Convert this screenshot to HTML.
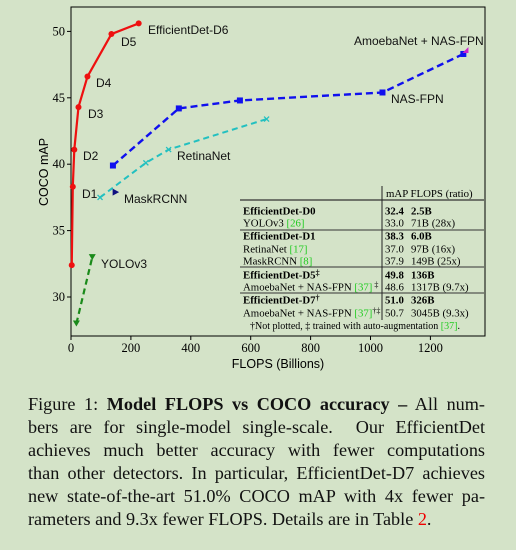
<!DOCTYPE html>
<html><head><meta charset="utf-8"><style>
body{margin:0;background:#d4e3c8;width:516px;height:550px;overflow:hidden;position:relative}
svg{position:absolute;left:0;top:0}
.cap{position:absolute;left:28px;top:393px;width:457px;font-family:"Liberation Serif",serif;font-size:18.2px;line-height:22.9px;color:#111}
.cap div{text-align:justify;text-align-last:justify;white-space:nowrap}
.cap div.last{text-align-last:left}
</style></head><body>
<svg width="516" height="380">
<g id="axes"></g><g id="marks"></g><g id="tbl"></g>
</svg>
<div class="cap">
<div style="white-space:normal">Figure 1: <b>Model FLOPS vs COCO accuracy –</b> All num-</div>
<div style="white-space:normal">bers are for single-model single-scale. &nbsp;Our EfficientDet</div>
<div style="white-space:normal">achieves much better accuracy with fewer computations</div>
<div style="white-space:normal">than other detectors. In particular, EfficientDet-D7 achieves</div>
<div style="white-space:normal">new state-of-the-art 51.0% COCO mAP with 4x fewer pa-</div>
<div class="last">rameters and 9.3x fewer FLOPS. Details are in Table <span style="color:#e00">2</span>.</div>
</div>
<script>
const effX=[2.5,6,11,25,55,135,226], effY=[32.4,38.3,41.1,44.3,46.6,49.8,50.6];
const yoloX=[18,71], yoloY=[28.0,33.0];
const retX=[97,250,326,653], retY=[37.5,40.1,41.1,43.4];
const nasX=[140,360,564,1040,1310], nasY=[39.9,44.2,44.8,45.4,48.3];
const maskX=[149], maskY=[37.9];
const amoX=[1317], amoY=[48.6];
const xTicks=[0,200,400,600,800,1000,1200], yTicks=[30,35,40,45,50];
const NS="http://www.w3.org/2000/svg";
const X=v=>71+v*0.2995, Y=v=>297-(v-30)*13.28;
function mk(t,a,p,txt){const e=document.createElementNS(NS,t);for(const k in a)e.setAttribute(k,a[k]);if(txt!=null)e.textContent=txt;p.appendChild(e);return e;}
const ax=document.getElementById('axes'),mr=document.getElementById('marks'),tb=document.getElementById('tbl');
let fr=mk('rect',{x:71,y:7,width:414,height:329,fill:'none',stroke:'#000','stroke-width':1},ax);


xTicks.forEach(v=>{mk('line',{x1:X(v),x2:X(v),y1:336,y2:340,stroke:'#000'},ax);
 let t=mk('text',{x:X(v),y:352,'text-anchor':'middle','font-family':'Liberation Serif,serif','font-size':12.5},ax,v);
 
 });
yTicks.forEach(v=>{mk('line',{x1:67,x2:71,y1:Y(v),y2:Y(v),stroke:'#000'},ax);
 let t=mk('text',{x:65,y:Y(v)+4,'text-anchor':'end','font-family':'Liberation Serif,serif','font-size':12.5},ax,v);
 
 });
let xt=mk('text',{x:278,y:368,'text-anchor':'middle','font-family':'Liberation Sans,sans-serif','font-size':12.5},ax,'FLOPS (Billions)');


let yt=mk('text',{x:0,y:0,transform:'translate(48,172) rotate(-90)','text-anchor':'middle','font-family':'Liberation Sans,sans-serif','font-size':12.5},ax,'COCO mAP');


function line(xs,ys,col,dash,w,name){const p=mk('polyline',{points:xs.map((x,i)=>X(x)+','+Y(ys[i])).join(' '),fill:'none',stroke:col,'stroke-width':w,'stroke-dasharray':dash},mr);
 
 }
line(yoloX,yoloY,'#1a8a1a','6,4',2.2,'yolov3-line');
line(retX,retY,'#22c0c0','6,4',2,'retinanet-line');
line(nasX,nasY,'#1010ee','7,4',2.4,'nasfpn-line');
line(effX,effY,'#ee1010','',2.2,'efficientdet-line');
effX.forEach((x,i)=>{let c=mk('circle',{cx:X(x),cy:Y(effY[i]),r:3,fill:'#ee1010'},mr);
 
 });
nasX.forEach((x,i)=>{let r=mk('rect',{x:X(x)-3,y:Y(nasY[i])-3,width:6,height:6,fill:'#1010ee'},mr);
 
 });
retX.forEach((x,i)=>{const cx=X(x),cy=Y(retY[i]);let g=mk('path',{d:`M${cx-2.5},${cy-2.5}L${cx+2.5},${cy+2.5}M${cx-2.5},${cy+2.5}L${cx+2.5},${cy-2.5}`,stroke:'#22c0c0','stroke-width':1.3},mr);
 
 });
yoloX.forEach((x,i)=>{const cx=X(x),cy=Y(yoloY[i]);let g=mk('path',{d:`M${cx-3.5},${cy-3}L${cx+3.5},${cy-3}L${cx},${cy+3}Z`,fill:'#1a8a1a'},mr);
 
 });
maskX.forEach((x,i)=>{const cx=X(x),cy=Y(maskY[i]);let g=mk('path',{d:`M${cx-3},${cy-3.5}L${cx+3.5},${cy}L${cx-3},${cy+3.5}Z`,fill:'#101080'},mr);
 
 });
amoX.forEach((x,i)=>{const cx=X(x),cy=Y(amoY[i]);let g=mk('path',{d:`M${cx-3},${cy+3}L${cx+3},${cy-3}L${cx+3},${cy+3}Z`,fill:'#cc22cc'},mr);
 
 });
function lab(x,y,s,name){let t=mk('text',{x:x,y:y,'font-family':'Liberation Sans,sans-serif','font-size':12,fill:'#111'},mr,s);
 
 }
lab(82,198,'D1','label-d1');lab(83,160,'D2','label-d2');lab(88,118,'D3','label-d3');lab(96,87,'D4','label-d4');lab(121,46,'D5','label-d5');
lab(148,34,'EfficientDet-D6','label-d6');lab(101,268,'YOLOv3','label-yolov3');lab(124,203,'MaskRCNN','label-maskrcnn');
lab(177,160,'RetinaNet','label-retinanet');lab(391,103,'NAS-FPN','label-nasfpn');lab(354,45,'AmoebaNet + NAS-FPN','label-amoebanet');
const rows=[["EfficientDet-D0","","",211,1,"32.4","2.5B"],["YOLOv3 ","[26]","",223,0,"33.0","71B (28x)"],
["EfficientDet-D1","","",236,1,"38.3","6.0B"],["RetinaNet ","[17]","",249,0,"37.0","97B (16x)"],["MaskRCNN ","[8]","",261,0,"37.9","149B (25x)"],
["EfficientDet-D5","","‡",275,1,"49.8","136B"],["AmoebaNet + NAS-FPN ","[37]"," ‡",287,0,"48.6","1317B (9.7x)"],
["EfficientDet-D7","","†",300,1,"51.0","326B"],["AmoebaNet + NAS-FPN ","[37]","†‡",313,0,"50.7","3045B (9.3x)"]];
mk('rect',{x:238,y:186,width:246,height:148,fill:'#d4e3c8'},tb);
[200,230,267,293].forEach(y=>mk('line',{x1:240,x2:484,y1:y,y2:y,stroke:'#333','stroke-width':y==200?1.2:1},tb));
mk('line',{x1:382,x2:382,y1:186,y2:320,stroke:'#222'},tb);
const F='Liberation Serif,serif';
mk('text',{x:386,y:197,'font-family':F,'font-size':10.8},tb,'mAP  FLOPS (ratio)');
rows.forEach(r=>{const w=r[4]?'bold':'normal';
 let t=mk('text',{x:243,y:r[3]+3.5,'font-family':F,'font-size':10.8,'font-weight':w},tb);
 
 
 mk('tspan',{},t,r[0]);
 if(r[1])mk('tspan',{fill:'#22cc22'},t,r[1]);
 if(r[2])mk('tspan',{'font-size':8,dy:-3},t,r[2]);
 mk('text',{x:385,y:r[3]+3.5,'font-family':F,'font-size':10.8,'font-weight':w},tb,r[5]);
 mk('text',{x:411,y:r[3]+3.5,'font-family':F,'font-size':10.8,'font-weight':w},tb,r[6]);});
let fn=mk('text',{x:250,y:329,'font-family':F,'font-size':10},tb);
mk('tspan',{},fn,'†Not plotted, ‡ trained with auto-augmentation ');
mk('tspan',{fill:'#22cc22'},fn,'[37]');
mk('tspan',{},fn,'.');
</script>
</body></html>
